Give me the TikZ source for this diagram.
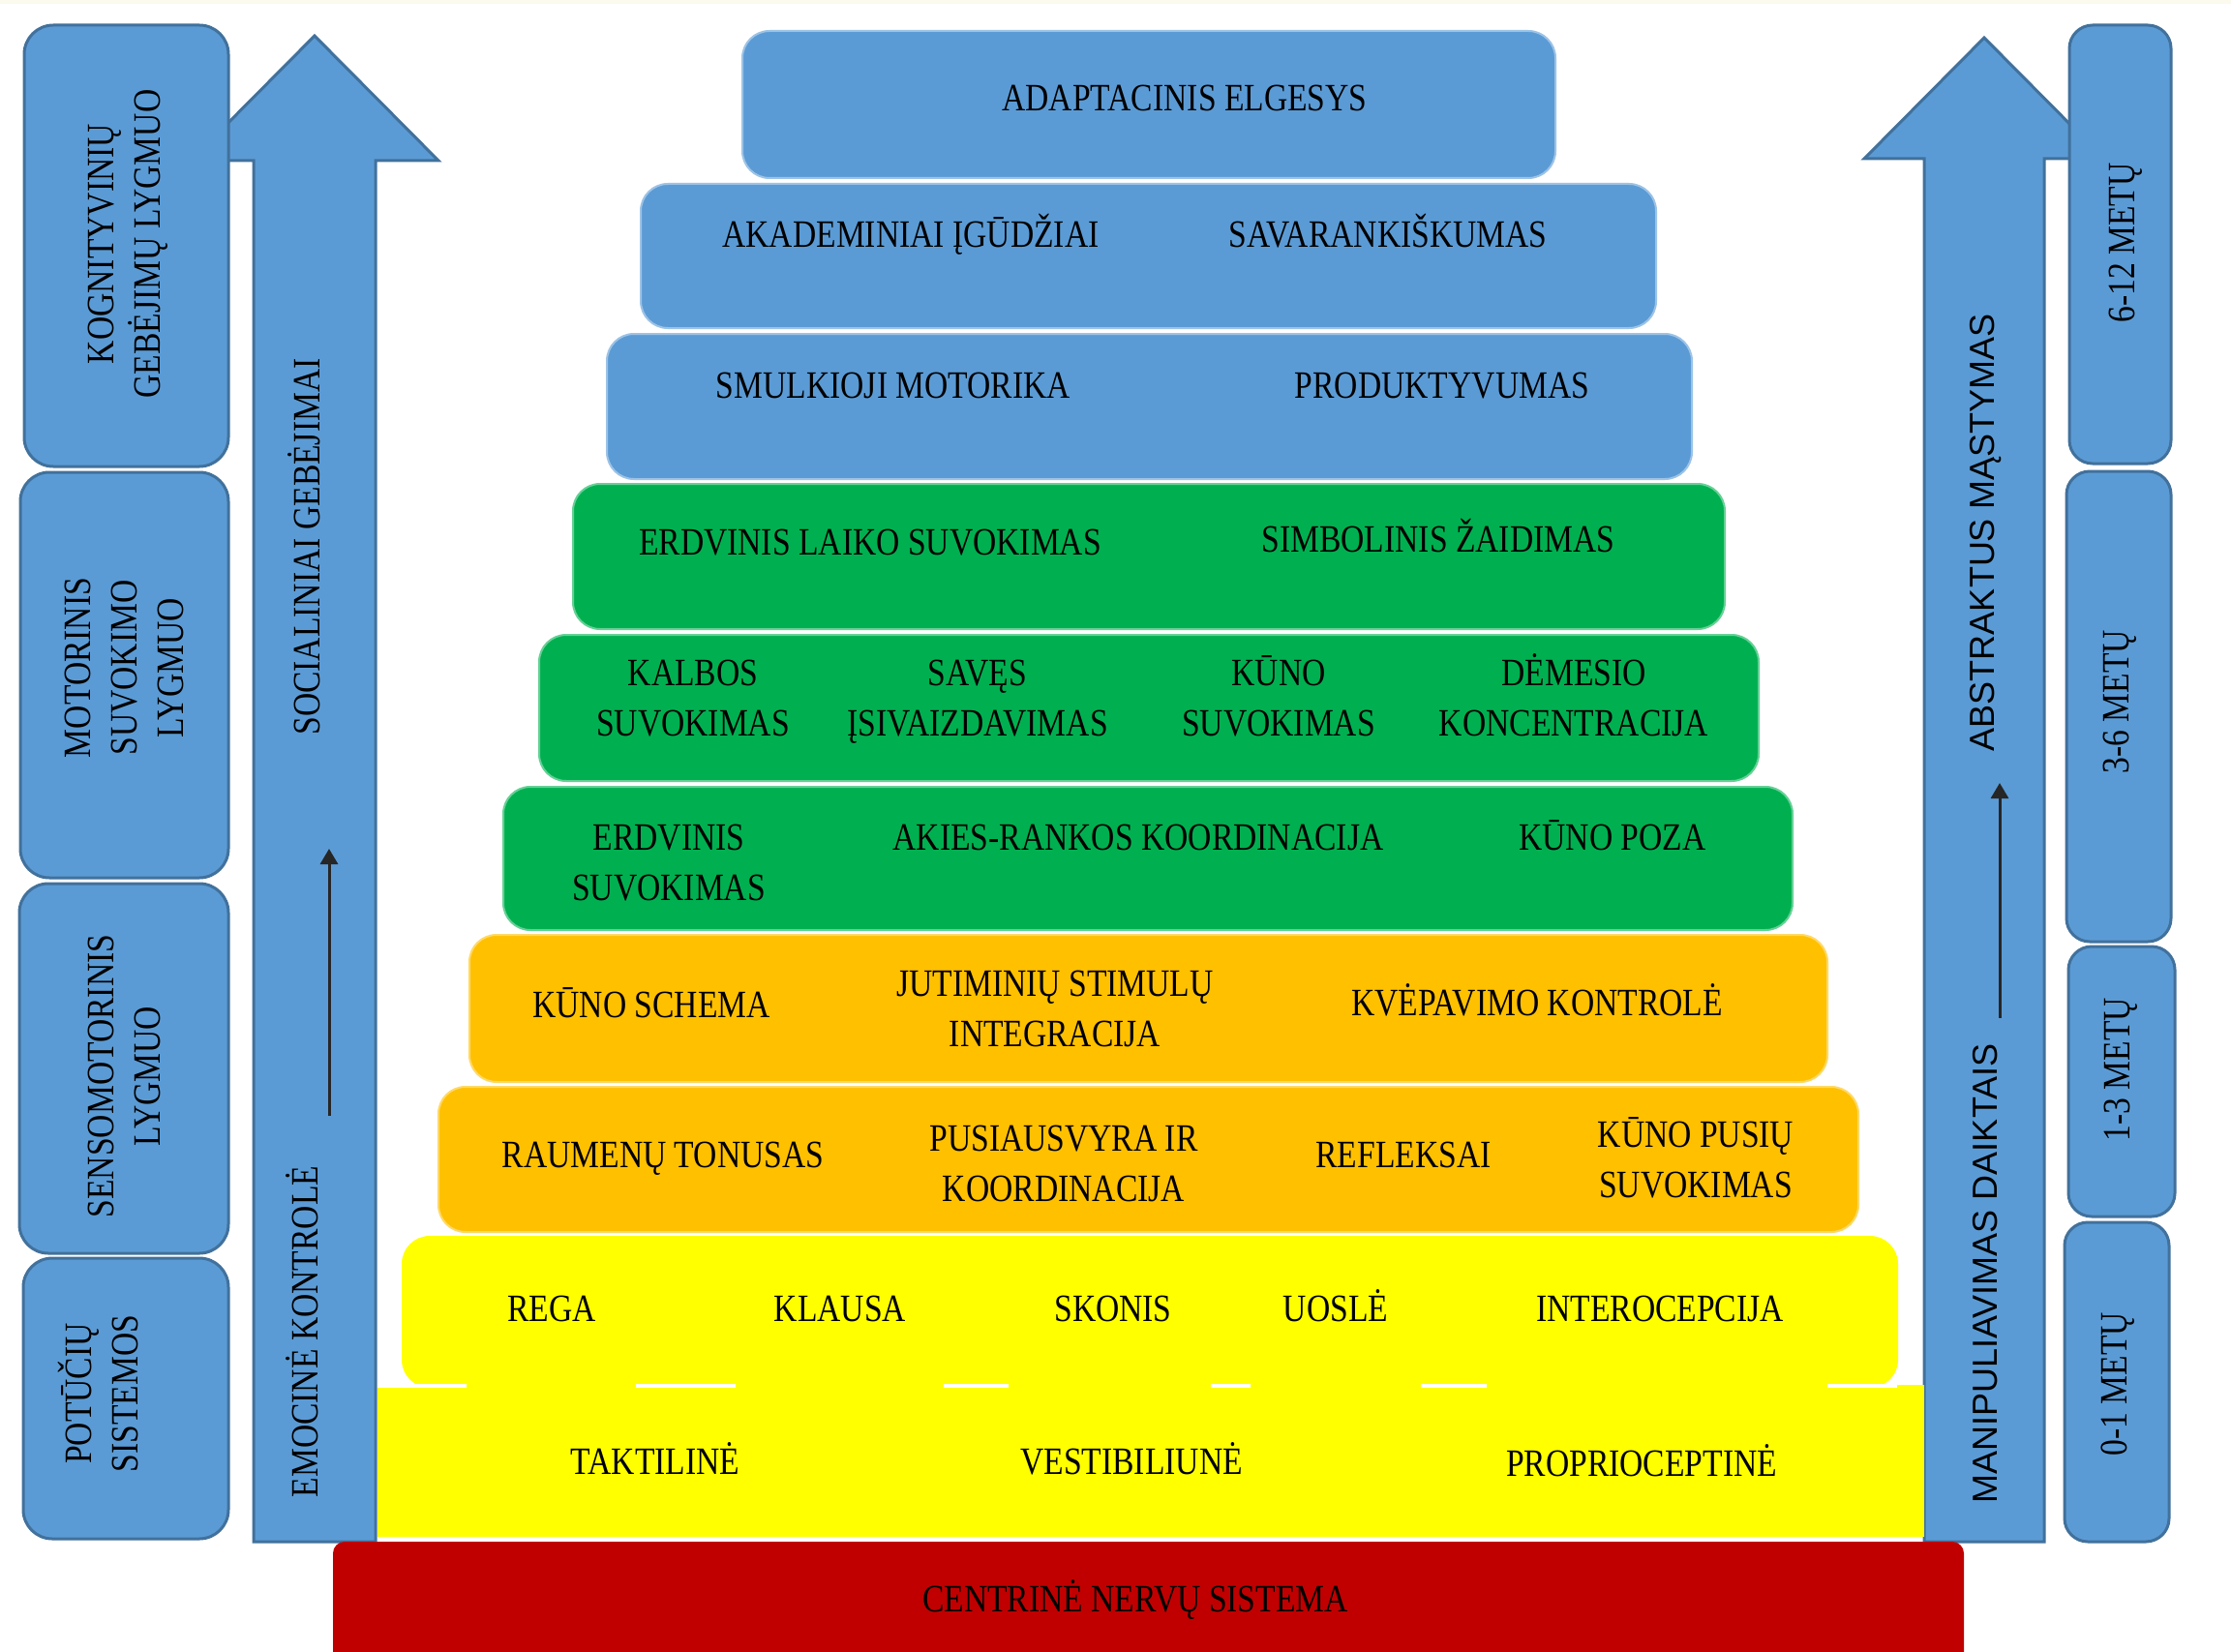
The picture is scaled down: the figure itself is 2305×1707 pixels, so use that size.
\documentclass[tikz,border=0pt]{standalone}
\usepackage{fontspec}
\setmainfont{Liberation Serif}[FakeStretch=0.84]
\newfontfamily\sansf{Liberation Sans}
\usetikzlibrary{arrows.meta}
\definecolor{obl}{HTML}{5B9BD5}
\definecolor{obd}{HTML}{41719C}
\definecolor{ogr}{HTML}{00B050}
\definecolor{oor}{HTML}{FFC000}
\definecolor{oye}{HTML}{FFFF00}
\definecolor{ore}{HTML}{C00000}
\definecolor{cream}{HTML}{FCF9EE}
\newcommand\capst{\rule{0pt}{27pt}}
\newcommand\sanst{\rule{0pt}{26pt}}
\newcommand\LL[1]{\smash{#1}}
\begin{document}
\begin{tikzpicture}[x=1pt,y=-1pt,
  tx/.style={inner sep=0pt, font=\fontsize{40}{52}\selectfont, align=center, execute at begin node=\capst},
  sidetx/.style={inner sep=0pt, font=\fontsize{40}{48}\selectfont, align=center, rotate=90, execute at begin node=\capst},
  sanstx/.style={inner sep=0pt, font=\sansf\fontsize{36}{40}\selectfont, rotate=90, execute at begin node=\sanst},
  layer/.style={rounded corners=28pt, line width=2pt},
  sidebox/.style={fill=obl, draw=obd, line width=3pt, rounded corners=30pt},
  agebox/.style={fill=obl, draw=obd, line width=3pt, rounded corners=24pt},
  bigarrow/.style={fill=obl, draw=obd, line width=3pt, line join=miter},
  smallarrow/.style={line width=3pt, draw=black!85, -{Triangle[length=16pt,width=18pt]}}
  ]
\useasboundingbox (0,0) rectangle (2305,1707);
\fill[white] (0,0) rectangle (2305,1707);
\fill[cream] (0,0) rectangle (2305,4);

% big arrows
\draw[bigarrow] (262,1593) -- (262,166) -- (197,166) -- (325,37) -- (453,166) -- (388,166) -- (388,1593) -- cycle;
\draw[bigarrow] (1988,1593) -- (1988,164) -- (1926,164) -- (2050,39) -- (2174,164) -- (2112,164) -- (2112,1593) -- cycle;

% left level boxes
\draw[sidebox] (25,26) rectangle (236,482);
\draw[sidebox] (21,488) rectangle (236,907);
\draw[sidebox] (20,913) rectangle (236,1295);
\draw[sidebox] (24,1300) rectangle (236,1590);

% right age boxes
\draw[agebox] (2138,26) rectangle (2243,479);
\draw[agebox] (2135,487) rectangle (2243,973);
\draw[agebox] (2137,978) rectangle (2247,1257);
\draw[agebox] (2133,1263) rectangle (2241,1593);

% pyramid layers
\draw[layer, fill=obl, draw=obl!60!white] (767,32) rectangle (1607,184);
\draw[layer, fill=obl, draw=obl!60!white] (662,190) rectangle (1711,339);
\draw[layer, fill=obl, draw=obl!60!white] (627,345) rectangle (1748,495);
\draw[layer, fill=ogr, draw=ogr!60!white] (592,500) rectangle (1782,650);
\draw[layer, fill=ogr, draw=ogr!60!white] (557,656) rectangle (1817,807);
\draw[layer, fill=ogr, draw=ogr!60!white] (520,813) rectangle (1852,961);
\draw[layer, fill=oor, draw=oor!60!white] (485,966) rectangle (1888,1118);
\draw[layer, fill=oor, draw=oor!60!white] (453,1123) rectangle (1920,1273);
\fill[oye] (390,1431) rectangle (1988,1588);
\draw[layer, fill=oye, draw=oye] (416,1278) rectangle (1960,1433);
\foreach \a/\b in {390/482, 657/760, 975/1042, 1251/1292, 1468/1536, 1888/1960}
  \draw[white, line width=4pt] (\a,1432) -- (\b,1432);
\fill[ore, rounded corners=12pt] (344,1730) -- (344,1593) -- (2029,1593) -- (2029,1730) -- cycle;

% small arrows
\coordinate (la0) at (340,1153);
\coordinate (la1) at (340,877);
\draw[smallarrow] (la0) -- (la1);
\coordinate (ra0) at (2066,1052);
\coordinate (ra1) at (2066,809);
\draw[smallarrow] (ra0) -- (ra1);

% side texts
\node[sidetx] (s1) at (141,252) {\LL{KOGNITYVINIŲ}\\\LL{GEBĖJIMŲ LYGMUO}};
\node[sidetx] (s2) at (141,690) {\LL{MOTORINIS}\\\LL{SUVOKIMO}\\\LL{LYGMUO}};
\node[sidetx] (s3) at (141,1112) {\LL{SENSOMOTORINIS}\\\LL{LYGMUO}};
\node[sidetx] (s4) at (118,1440) {\LL{POTŪČIŲ}\\\LL{SISTEMOS}};
\node[sidetx] (a1) at (317,565) {\LL{SOCIALINIAI GEBĖJIMAI}};
\node[sidetx] (a2) at (315,1376) {\LL{EMOCINĖ KONTROLĖ}};
\node[sanstx] (a3) at (2047,550) {\LL{ABSTRAKTUS MĄSTYMAS}};
\node[sanstx] (a4) at (2050,1316) {\LL{MANIPULIAVIMAS DAIKTAIS}};
\node[sidetx] (m1) at (2192,251) {\LL{6-12 METŲ}};
\node[sidetx] (m2) at (2186,725) {\LL{3-6 METŲ}};
\node[sidetx] (m3) at (2187,1105) {\LL{1-3 METŲ}};
\node[sidetx] (m4) at (2184,1430) {\LL{0-1 METŲ}};

% pyramid texts
\node[tx] (t1) at (1224,101) {\LL{ADAPTACINIS ELGESYS}};
\node[tx] (t2a) at (941,242) {\LL{AKADEMINIAI ĮGŪDŽIAI}};
\node[tx] (t2b) at (1434,242) {\LL{SAVARANKIŠKUMAS}};
\node[tx] (t3a) at (923,398) {\LL{SMULKIOJI MOTORIKA}};
\node[tx] (t3b) at (1490,398) {\LL{PRODUKTYVUMAS}};
\node[tx] (t4a) at (899,560) {\LL{ERDVINIS LAIKO SUVOKIMAS}};
\node[tx] (t4b) at (1486,557) {\LL{SIMBOLINIS ŽAIDIMAS}};
\node[tx] (t5a) at (716,734) {\LL{KALBOS}\\\LL{SUVOKIMAS}};
\node[tx] (t5b) at (1010,734) {\LL{SAVĘS}\\\LL{ĮSIVAIZDAVIMAS}};
\node[tx] (t5c) at (1321,734) {\LL{KŪNO}\\\LL{SUVOKIMAS}};
\node[tx] (t5d) at (1626,734) {\LL{DĖMESIO}\\\LL{KONCENTRACIJA}};
\node[tx] (t6a) at (691,904) {\LL{ERDVINIS}\\\LL{SUVOKIMAS}};
\node[tx] (t6b) at (1176,865) {\LL{AKIES-RANKOS KOORDINACIJA}};
\node[tx] (t6c) at (1666,865) {\LL{KŪNO POZA}};
\node[tx] (t7a) at (673,1038) {\LL{KŪNO SCHEMA}};
\node[tx] (t7b) at (1090,1055) {\LL{JUTIMINIŲ STIMULŲ}\\\LL{INTEGRACIJA}};
\node[tx] (t7c) at (1588,1036) {\LL{KVĖPAVIMO KONTROLĖ}};
\node[tx] (t8a) at (685,1193) {\LL{RAUMENŲ TONUSAS}};
\node[tx] (t8b) at (1099,1215) {\LL{PUSIAUSVYRA IR}\\\LL{KOORDINACIJA}};
\node[tx] (t8c) at (1450,1193) {\LL{REFLEKSAI}};
\node[tx] (t8d) at (1752,1211) {\LL{KŪNO PUSIŲ}\\\LL{SUVOKIMAS}};
\node[tx] (t9a) at (570,1352) {\LL{REGA}};
\node[tx] (t9b) at (868,1352) {\LL{KLAUSA}};
\node[tx] (t9c) at (1150,1352) {\LL{SKONIS}};
\node[tx] (t9d) at (1380,1352) {\LL{UOSLĖ}};
\node[tx] (t9e) at (1715,1352) {\LL{INTEROCEPCIJA}};
\node[tx] (t10a) at (677,1510) {\LL{TAKTILINĖ}};
\node[tx] (t10b) at (1169,1510) {\LL{VESTIBILIUNĖ}};
\node[tx] (t10c) at (1696,1512) {\LL{PROPRIOCEPTINĖ}};
\node[tx] (t11) at (1173,1652) {\LL{CENTRINĖ NERVŲ SISTEMA}};
\end{tikzpicture}
\end{document}
